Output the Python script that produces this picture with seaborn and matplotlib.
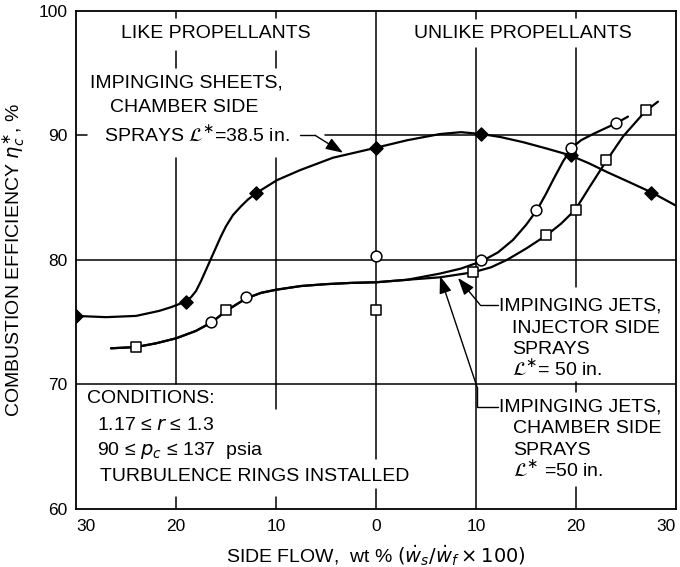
import matplotlib
matplotlib.use("Agg")
import matplotlib.pyplot as plt
import seaborn as sns
import pandas as pd

# ---------------- data ----------------
# x: side flow, wt %; negative = like propellants (left), positive = unlike (right)
sheets_x = [-30, -19, -12, 0, 10.5, 19.5, 27.5]
sheets_y = [75.5, 76.6, 85.4, 89.0, 90.1, 88.4, 85.4]

injector_x = [-16.5, -13, 0, 10.5, 16, 19.5, 24]
injector_y = [75.0, 77.0, 80.3, 80.0, 84.0, 89.0, 91.0]

chamber_x = [-24, -15, 0, 9.7, 17, 20, 23, 27]
chamber_y = [73.0, 76.0, 76.0, 79.0, 82.0, 84.0, 88.0, 92.0]

# hand-faired curves
sheets_curve_x = [-30, -27, -24, -21.7, -20.5, -19.2, -18.5, -18, -17.5, -17, -16.5, -16,
                  -15.5, -15, -14.3, -13.5, -12.8, -11.9, -9.9, -7.6, -4.3, 0, 3.1, 6.4,
                  8.5, 10.6, 12.5, 14.7, 17, 19.4, 21.3, 23.1, 25.3, 27.6, 30]
sheets_curve_y = [75.5, 75.4, 75.5, 75.9, 76.2, 76.6, 77.0, 77.5, 78.3, 79.2, 80.1, 81.0,
                  81.9, 82.7, 83.6, 84.3, 84.85, 85.4, 86.4, 87.2, 88.2, 89.0, 89.6, 90.1,
                  90.25, 90.1, 89.85, 89.45, 88.95, 88.4, 87.75, 87.05, 86.25, 85.4, 84.35]

common_curve_x = [-26.5, -24, -22, -20, -18, -16.4, -15, -13, -11.5, -10, -7.5, -5,
                  -2.5, 0, 3.1]
common_curve_y = [72.9, 73.0, 73.3, 73.7, 74.3, 75.0, 75.9, 76.9, 77.35, 77.6, 77.9, 78.05,
                  78.15, 78.2, 78.4]

injector_curve_x = [6.4, 8.5, 10.6, 12.2, 13.7, 15, 16.1, 17, 17.7, 18.7, 19.6, 20.5,
                    21.7, 24.1, 25.2]
injector_curve_y = [78.9, 79.3, 79.9, 80.6, 81.6, 82.8, 84.0, 85.3, 86.4, 87.9, 89.0, 89.6,
                    90.1, 91.0, 91.5]

chamber_curve_x = [6.4, 9.7, 11.5, 13.1, 15, 17.1, 18.5, 19.9, 20.7, 21.4, 23, 24.7,
                   26.9, 28.2]
chamber_curve_y = [78.6, 79.0, 79.4, 80.0, 80.9, 82.0, 82.9, 84.0, 85.0, 85.9, 87.9, 89.9,
                   91.9, 92.7]

x_ticks = [-30, -20, -10, 0, 10, 20, 30]
x_tick_labels = ["30", "20", "10", "0", "10", "20", "30"]
y_ticks = [60, 70, 80, 90, 100]

# ---------------- style ----------------
sns.set_theme(style="white")
plt.rcParams["font.family"] = ["Liberation Sans", "DejaVu Sans"]
plt.rcParams["mathtext.fontset"] = "dejavusans"

fig = plt.figure(figsize=(6.8, 5.67), dpi=100)
ax = fig.add_axes([0.1118, 0.1023, 0.8823, 0.8788])
ax.set_xlim(-30, 30)
ax.set_ylim(60, 100)

# grid segments (with gaps where the reference leaves room for text)
GL = dict(color="black", lw=1.1, zorder=1)
vgrid = {
    -20: [(100, 99.4), (96.8, 95.4), (88.2, 70.0), (61.0, 60)],
    -10: [(100, 99.4), (96.8, 95.4), (88.2, 68.0), (61.0, 60)],
    0: [(100, 64.0), (61.6, 60)],
    10: [(100, 99.3), (97.0, 60)],
    20: [(100, 99.4), (97.0, 77.8), (70.2, 69.4), (61.8, 60)],
}
for xv, segs in vgrid.items():
    for y0, y1 in segs:
        ax.plot([xv, xv], [y0, y1], **GL)
hgrid = {
    90: [(-30, -28.9), (-5.1, 30)],
    80: [(-30, 30)],
    70: [(-30, 30)],
}
for yv, segs in hgrid.items():
    for x0, x1 in segs:
        ax.plot([x0, x1], [yv, yv], **GL)

# curves
inj_full_x = common_curve_x + injector_curve_x
inj_full_y = common_curve_y + injector_curve_y
chm_full_x = common_curve_x + chamber_curve_x
chm_full_y = common_curve_y + chamber_curve_y
for cx, cy in [(sheets_curve_x, sheets_curve_y),
               (inj_full_x, inj_full_y),
               (chm_full_x, chm_full_y)]:
    sns.lineplot(x=cx, y=cy, ax=ax, color="black", lw=1.6, sort=False,
                 estimator=None, zorder=3)

# markers
sns.scatterplot(x=sheets_x, y=sheets_y, ax=ax, marker="D", s=45, color="black",
                edgecolor="black", linewidth=1, zorder=5)
sns.scatterplot(x=injector_x, y=injector_y, ax=ax, marker="o", s=60, color="white",
                edgecolor="black", linewidth=1.1, zorder=5)
sns.scatterplot(x=chamber_x, y=chamber_y, ax=ax, marker="s", s=55, color="white",
                edgecolor="black", linewidth=1.1, zorder=5)

# axes cosmetics
ax.set_xticks(x_ticks)
ax.set_xticklabels(x_tick_labels)
ax.set_yticks(y_ticks)
ax.set_yticklabels([str(v) for v in y_ticks])
ax.tick_params(axis="both", length=0, labelsize=12.5, colors="black")
ax.tick_params(axis="x", pad=7)
ax.tick_params(axis="y", pad=6)
xt = ax.get_xticklabels()
xt[0].set_horizontalalignment("left")
xt[-1].set_horizontalalignment("right")
for sp in ax.spines.values():
    sp.set_color("black")
    sp.set_linewidth(1.3)

ax.set_xlabel(r"SIDE FLOW,  wt % $(\dot{w}_s/\dot{w}_f\times100)$", fontsize=14,
              color="black")
ax.xaxis.set_label_coords(0.5, -0.068)
ax.set_ylabel(r"COMBUSTION EFFICIENCY $\eta_c^{\ast}$, %", fontsize=14, color="black")
ax.yaxis.set_label_coords(-0.08, 0.5)

FS = 14
TXT = dict(fontsize=FS, color="black", zorder=6)
ax.text(-16, 98.2, "LIKE PROPELLANTS", ha="center", va="center", **TXT)
ax.text(14.7, 98.2, "UNLIKE PROPELLANTS", ha="center", va="center", **TXT)

ax.text(-28.6, 94.2, "IMPINGING SHEETS,", ha="left", va="center", **TXT)
ax.text(-26.6, 92.2, "CHAMBER SIDE", ha="left", va="center", **TXT)
ax.text(-27.2, 90.0, r"SPRAYS $\mathcal{L}^{\ast}$=38.5 in.", ha="left", va="center", **TXT)

AP = dict(arrowstyle="-|>,head_length=0.7,head_width=0.25", color="black", lw=1.0,
          mutation_scale=15, shrinkA=0, shrinkB=0)
ax.plot([-7.6, -6.1], [90, 90], color="black", lw=1.0, zorder=4)
ax.annotate("", xy=(-3.3, 88.6), xytext=(-6.1, 90), arrowprops=AP, zorder=4)

# injector side annotation
ax.text(12.3, 76.3, "IMPINGING JETS,", ha="left", va="center", **TXT)
ax.text(13.6, 74.5, "INJECTOR SIDE", ha="left", va="center", **TXT)
ax.text(13.6, 72.8, "SPRAYS", ha="left", va="center", **TXT)
ax.text(13.6, 71.2, r"$\mathcal{L}^{\ast}$= 50 in.", ha="left", va="center", **TXT)
ax.plot([10.4, 12.2], [76.4, 76.4], color="black", lw=1.0, zorder=4)
ax.annotate("", xy=(8.2, 78.55), xytext=(10.4, 76.4), arrowprops=AP, zorder=4)

# chamber side annotation
ax.text(12.3, 68.2, "IMPINGING JETS,", ha="left", va="center", **TXT)
ax.text(13.7, 66.5, "CHAMBER SIDE", ha="left", va="center", **TXT)
ax.text(13.7, 64.7, "SPRAYS", ha="left", va="center", **TXT)
ax.text(13.7, 63.1, r"$\mathcal{L}^{\ast}$ =50 in.", ha="left", va="center", **TXT)
ax.plot([12.2, 10.1, 10.1], [68.2, 68.2, 69.8], color="black", lw=1.0, zorder=4)
ax.annotate("", xy=(6.4, 78.7), xytext=(10.1, 69.8), arrowprops=AP, zorder=4)

# conditions
ax.text(-28.9, 68.9, "CONDITIONS:", ha="left", va="center", **TXT)
ax.text(-27.9, 66.7, r"1.17 ≤ $r$ ≤ 1.3", ha="left", va="center", **TXT)
ax.text(-27.9, 64.7, r"90 ≤ $p_c$ ≤ 137  psia", ha="left", va="center", **TXT)
ax.text(-27.6, 62.6, "TURBULENCE RINGS INSTALLED", ha="left", va="center", **TXT)

fig.savefig("out.png", dpi=100, facecolor="white")
